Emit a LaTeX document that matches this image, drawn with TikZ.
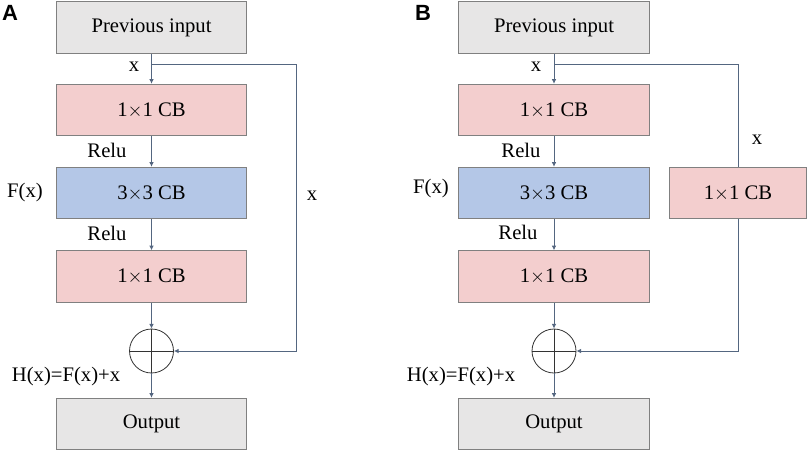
\documentclass[tikz,border=0pt]{standalone}
\usepackage{fontspec}
\setmainfont{Liberation Serif}
\newfontfamily\panelfont{Liberation Sans}
\usetikzlibrary{arrows.meta}

\definecolor{boxgray}{RGB}{231,230,230}
\definecolor{boxpink}{RGB}{243,206,206}
\definecolor{boxblue}{RGB}{180,199,231}
\definecolor{edgegray}{RGB}{128,128,128}
\definecolor{linkcol}{RGB}{84,102,128}

\tikzstyle{block}=[rectangle, draw=edgegray, line width=0.8pt,
                   minimum width=143pt, minimum height=38.5pt,
                   font=\fontsize{15.5}{18}\selectfont]
\tikzstyle{label}=[inner sep=0pt, font=\fontsize{15.5}{18}\selectfont]
\tikzstyle{sum}=[circle, draw=black!80, line width=0.6pt, minimum size=33pt, inner sep=0pt]
\tikzstyle{link}=[-{Latex[length=3.5pt, width=3.5pt]}, draw=linkcol, line width=0.75pt]

\begin{document}
\begin{tikzpicture}[x=0.75pt, y=-0.75pt]
  \useasboundingbox (0, 0) rectangle (809, 458);

  %%%%%%%%%%%%%%%%%%%%%%%%%%%%%%
  %%%%%%%%%%%%%%%%%%%%%%%%%%%%%%
  % panel A

  %%%%%%%%%%%%%%%%%%%%%%%%%%%%%%
  % nodes
  \node (a) at (10, 13) {\panelfont\bfseries\fontsize{16.5}{18}\selectfont A};

  \node (prev_a) at (151.5, 27.5) [block, fill=boxgray] {Previous input};
  \node (cb1_a) at (151.5, 110) [block, fill=boxpink] {1$\times$1 CB};
  \node (cb3_a) at (151.5, 193) [block, fill=boxblue] {3$\times$3 CB};
  \node (cb1b_a) at (151.5, 276.5) [block, fill=boxpink] {1$\times$1 CB};
  \node (sum_a) at (151.5, 351) [sum] {};
  \node (out_a) at (151.5, 424) [block, fill=boxgray] {Output};

  \node (x_a) at (134, 67) [label] {x};
  \node (relu1_a) at (107, 150) [label] {Relu};
  \node (relu2_a) at (107, 233) [label] {Relu};
  \node (fx_a) at (25, 193) [label] {F(x)};
  \node (skipx_a) at (312, 196) [label] {x};
  \node (hx_a) at (66, 377) [label] {H(x)=F(x)+x};

  \coordinate (split_a) at (151.5, 64);
  \coordinate (skip_a) at (296, 351);

  %%%%%%%%%%%%%%%%%%%%%%%%%%%%%%
  % links
  \draw [link] (prev_a) to (cb1_a);
  \draw [link] (cb1_a) to (cb3_a);
  \draw [link] (cb3_a) to (cb1b_a);
  \draw [link] (cb1b_a) to (sum_a);
  \draw [link] (sum_a) to (out_a);
  \draw [link] (split_a) -| (skip_a) -- (sum_a);

  \draw [black!80, line width=0.6pt] (sum_a.north) -- (sum_a.south);
  \draw [black!80, line width=0.6pt] (sum_a.west) -- (sum_a.east);

  %%%%%%%%%%%%%%%%%%%%%%%%%%%%%%
  %%%%%%%%%%%%%%%%%%%%%%%%%%%%%%
  % panel B

  %%%%%%%%%%%%%%%%%%%%%%%%%%%%%%
  % nodes
  \node (b) at (423, 13) {\panelfont\bfseries\fontsize{16.5}{18}\selectfont B};

  \node (prev_b) at (554, 27.5) [block, fill=boxgray] {Previous input};
  \node (cb1_b) at (554, 110) [block, fill=boxpink] {1$\times$1 CB};
  \node (cb3_b) at (554, 193) [block, fill=boxblue] {3$\times$3 CB};
  \node (cb1b_b) at (554, 276.5) [block, fill=boxpink] {1$\times$1 CB};
  \node (side_b) at (738, 193) [block, fill=boxpink, minimum width=103pt] {1$\times$1 CB};
  \node (sum_b) at (554, 351) [sum] {};
  \node (out_b) at (554, 424) [block, fill=boxgray] {Output};

  \node (x_b) at (536, 67) [label] {x};
  \node (relu1_b) at (521, 150) [label] {Relu};
  \node (relu2_b) at (518, 232) [label] {Relu};
  \node (fx_b) at (431, 189) [label] {F(x)};
  \node (skipx_b) at (757, 140) [label] {x};
  \node (hx_b) at (461, 377) [label] {H(x)=F(x)+x};

  \coordinate (split_b) at (554, 64);

  %%%%%%%%%%%%%%%%%%%%%%%%%%%%%%
  % links
  \draw [link] (prev_b) to (cb1_b);
  \draw [link] (cb1_b) to (cb3_b);
  \draw [link] (cb3_b) to (cb1b_b);
  \draw [link] (cb1b_b) to (sum_b);
  \draw [link] (sum_b) to (out_b);
  \draw [draw=linkcol, line width=0.75pt] (split_b) -| (side_b);
  \draw [link] (side_b) |- (sum_b);

  \draw [black!80, line width=0.6pt] (sum_b.north) -- (sum_b.south);
  \draw [black!80, line width=0.6pt] (sum_b.west) -- (sum_b.east);

\end{tikzpicture}
\end{document}
